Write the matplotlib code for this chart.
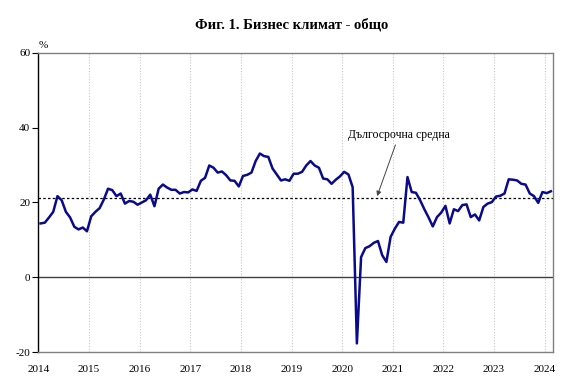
import numpy as np
import matplotlib.pyplot as plt

plt.rcParams['font.family'] = ['Liberation Serif', 'DejaVu Serif']
plt.rcParams['axes.unicode_minus'] = False

# Бизнес климат - общо, месечни стойности (януари 2014 - февруари 2024)
years = [2014, 2015, 2016, 2017, 2018, 2019, 2020, 2021, 2022, 2023, 2024]
climate = [
    14.4, 14.6, 16.0, 17.5, 21.7, 20.6, 17.5, 16.0, 13.5, 12.8, 13.3, 12.3,  # 2014
    16.3, 17.5, 18.5, 20.8, 23.7, 23.3, 21.7, 22.4, 19.7, 20.4, 20.2, 19.4,  # 2015
    20.0, 20.6, 22.1, 19.0, 23.7, 24.8, 24.0, 23.4, 23.4, 22.4, 22.8, 22.7,  # 2016
    23.5, 23.1, 25.8, 26.6, 29.9, 29.3, 28.0, 28.3, 27.3, 25.9, 25.8, 24.3,  # 2017
    27.1, 27.4, 28.0, 31.1, 33.1, 32.4, 32.2, 29.1, 27.5, 25.9, 26.2, 25.8,  # 2018
    27.7, 27.7, 28.2, 29.9, 31.1, 29.9, 29.3, 26.4, 26.2, 25.0, 26.1, 27.0,  # 2019
    28.2, 27.5, 24.1, -17.7, 5.4, 7.8, 8.3, 9.2, 9.7, 5.9, 4.1, 10.8,        # 2020
    13.0, 14.8, 14.6, 26.8, 22.8, 22.6, 20.6, 18.2, 16.0, 13.6, 16.1, 17.3,  # 2021
    19.1, 14.4, 18.2, 17.7, 19.3, 19.5, 16.1, 16.8, 15.2, 18.8, 19.7, 20.1,  # 2022
    21.6, 21.8, 22.4, 26.2, 26.1, 25.9, 25.0, 24.8, 22.4, 21.7, 19.9, 22.8,  # 2023
    22.5, 23.0,                                                              # 2024
]
long_term_avg = 21.1
avg_label = "Дългосрочна средна"

n = len(climate)
months = np.arange(n) + 0.5

fig = plt.figure(figsize=(5.83, 3.91), dpi=100)
ax = fig.add_axes([0.066, 0.0997, 0.8825, 0.7648])

# вертикални линии по години
for k in range(1, len(years)):
    ax.axvline(12 * k, color="#c8c8c8", lw=0.8, ls=(0, (1, 1.5)), zorder=0)

ax.axhline(0, color="#404040", lw=1.0, zorder=1)
ax.axhline(long_term_avg, color="black", lw=0.9, ls=(0, (2, 1.8)), zorder=2)

ax.plot(months, climate, color="#0a0a8c", lw=1.8, zorder=3)

ax.annotate(avg_label, xy=(80.3, long_term_avg + 0.6), xytext=(85.5, 36.5),
            ha="center", va="bottom", fontsize=8.5,
            arrowprops=dict(arrowstyle="-|>", color="#444444", lw=0.7,
                            mutation_scale=7, shrinkA=1, shrinkB=0))

ax.set_xlim(0, n)
ax.set_ylim(-20, 60)
ax.set_yticks([-20, 0, 20, 40, 60])
ax.set_xticks([12 * k for k in range(len(years))])
ax.set_xticklabels([str(y) for y in years])
ax.tick_params(axis="x", length=0, pad=9, labelsize=8)
ax.tick_params(axis="y", length=4, direction="out", labelsize=8, pad=2)

for side in ["top", "right", "bottom"]:
    ax.spines[side].set_color("#808080")
    ax.spines[side].set_linewidth(1.0)
ax.spines["left"].set_color("black")
ax.spines["left"].set_linewidth(1.0)

ax.text(0.0, 1.01, "%", transform=ax.transAxes, fontsize=8, ha="left", va="bottom")

fig.suptitle("Фиг. 1. Бизнес климат - общо", fontsize=10.5, fontweight="bold",
             y=0.955, x=0.5)

fig.savefig("out.png", dpi=100)
